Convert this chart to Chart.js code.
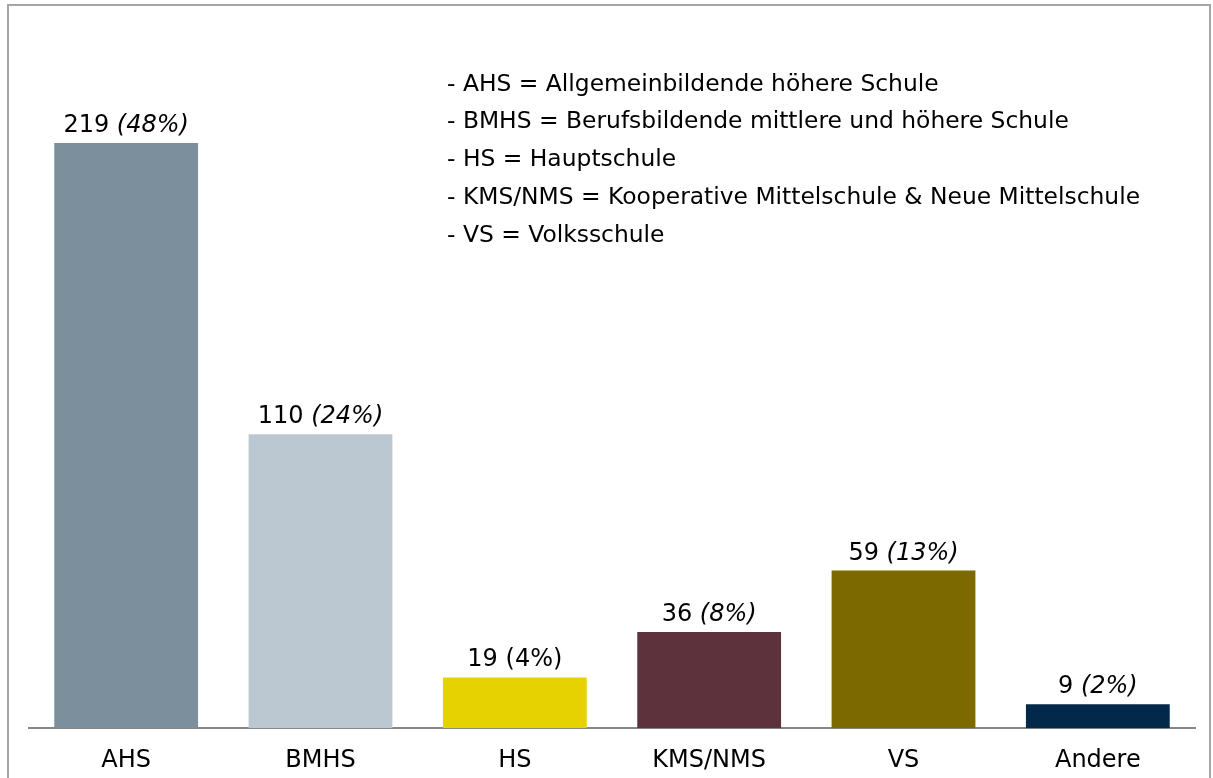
<!DOCTYPE html>
<html>
<head>
<meta charset="utf-8">
<script src="https://cdn.jsdelivr.net/npm/chart.js@4"></script>
<style>
  body { margin: 0; background: #fff; }
  canvas { display: block; }
</style>
</head>
<body>
<canvas id="myChart" width="1213" height="778"></canvas>
<script>
const categories = ['AHS', 'BMHS', 'HS', 'KMS/NMS', 'VS', 'Andere'];
const counts = [219, 110, 19, 36, 59, 9];
const shares = ['(48%)', '(24%)', '(4%)', '(8%)', '(13%)', '(2%)'];
const shareItalic = [true, true, false, true, true, true];
const barColors = ['#7B909C', '#BCC8D1', '#E6D200', '#5E323C', '#7C6A00', '#02284A'];
const notes = [
    '- AHS = Allgemeinbildende höhere Schule',
    '- BMHS = Berufsbildende mittlere und höhere Schule',
    '- HS = Hauptschule',
    '- KMS/NMS = Kooperative Mittelschule & Neue Mittelschule',
    '- VS = Volksschule'
];

const FONT = 'DejaVu Sans, Verdana, sans-serif';

// frame around the picture
const framePlugin = {
    id: 'frame',
    beforeDraw(chart) {
        const ctx = chart.ctx;
        ctx.save();
        ctx.strokeStyle = '#A6A6A6';
        ctx.lineWidth = 2;
        ctx.beginPath();
        ctx.moveTo(8, 778);
        ctx.lineTo(8, 5);
        ctx.lineTo(1210, 5);
        ctx.lineTo(1210, 778);
        ctx.stroke();
        ctx.restore();
    }
};

// value labels above bars, percentage part mostly italic
const valueLabels = {
    id: 'valueLabels',
    afterDatasetsDraw(chart) {
        const ctx = chart.ctx;
        const meta = chart.getDatasetMeta(0);
        ctx.save();
        ctx.fillStyle = '#000';
        ctx.textBaseline = 'alphabetic';
        ctx.textAlign = 'left';
        meta.data.forEach((bar, i) => {
            const a = counts[i] + ' ';
            const b = shares[i];
            ctx.font = '24px ' + FONT;
            const wa = ctx.measureText(a).width;
            ctx.font = (shareItalic[i] ? 'italic ' : '') + '24px ' + FONT;
            const wb = ctx.measureText(b).width;
            const x0 = bar.x - (wa + wb) / 2;
            const y = bar.y - 11;
            ctx.font = '24px ' + FONT;
            ctx.fillText(a, x0, y);
            ctx.font = (shareItalic[i] ? 'italic ' : '') + '24px ' + FONT;
            ctx.fillText(b, x0 + wa, y);
        });
        ctx.restore();
    }
};

// abbreviation notes in the upper middle
const notesPlugin = {
    id: 'notes',
    afterDraw(chart) {
        const ctx = chart.ctx;
        ctx.save();
        ctx.fillStyle = '#000';
        ctx.font = '23.4px ' + FONT;
        ctx.textBaseline = 'alphabetic';
        notes.forEach((t, i) => {
            ctx.fillText(t, 447, 90.7 + i * 37.75);
        });
        ctx.restore();
    }
};

const ctx = document.getElementById('myChart').getContext('2d');
const myChart = new Chart(ctx, {
    type: 'bar',
    data: {
        labels: categories,
        datasets: [{
            data: counts,
            backgroundColor: barColors,
            borderWidth: 0,
            categoryPercentage: 1,
            barPercentage: 0.74
        }]
    },
    options: {
        responsive: false,
        animation: false,
        layout: {
            padding: { left: 29, right: 18, top: 20, bottom: -15 }
        },
        plugins: {
            legend: { display: false },
            tooltip: { enabled: false }
        },
        scales: {
            x: {
                grid: { display: false, drawTicks: false },
                border: { display: true, color: '#868686', width: 2 },
                ticks: {
                    color: '#000',
                    padding: 18,
                    font: { family: FONT, size: 24 }
                }
            },
            y: {
                display: false,
                min: 0,
                max: 265
            }
        }
    },
    plugins: [framePlugin, valueLabels, notesPlugin]
});
</script>
</body>
</html>
